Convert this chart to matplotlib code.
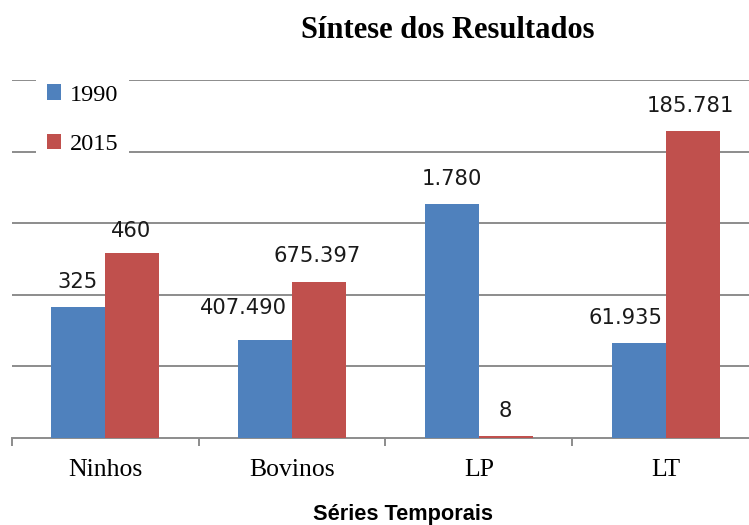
import matplotlib
matplotlib.use("Agg")
import matplotlib.pyplot as plt
from matplotlib.patches import Patch
import numpy as np

# ---- data ----
categories = ["Ninhos", "Bovinos", "LP", "LT"]
series_names = ["1990", "2015"]
# bar heights as drawn (relative chart units)
heights_1990 = [1.82, 1.36, 3.26, 1.33]
heights_2015 = [2.58, 2.18, 0.03, 4.29]
# data labels as printed on the chart
labels_1990 = ["325", "407.490", "1.780", "61.935"]
labels_2015 = ["460", "675.397", "8", "185.781"]

title = "Síntese dos Resultados"
xlabel = "Séries Temporais"

# ---- style ----
c1990 = "#4F81BD"
c2015 = "#C0504D"
grid_c = "#8C8C8C"
W, H = 749, 525
# label offsets in pixels (dx, dy) relative to bar top centre
off_1990 = [(-1, 25), (-22, 32), (0, 25), (-13, 25)]
off_2015 = [(-1, 22), (-2, 26), (-1, 25), (-2, 25)]

fig = plt.figure(figsize=(W / 100, H / 100), dpi=100)
left_px, right_px = 11.7, 759.3
top_px, bot_px = 80, 437.7
ax = fig.add_axes([left_px / W, 1 - bot_px / H,
                   (right_px - left_px) / W, (bot_px - top_px) / H])

x = np.arange(len(categories))
bw = 0.289
b1 = ax.bar(x - bw / 2, heights_1990, bw, color=c1990, zorder=3)
b2 = ax.bar(x + bw / 2, heights_2015, bw, color=c2015, zorder=3)

ax.set_xlim(-0.5, len(categories) - 0.5)
ax.set_ylim(0, 5)
ax.set_yticks([1, 2, 3, 4, 5])
ax.yaxis.grid(True, color=grid_c, linewidth=1.4, zorder=0)
ax.tick_params(axis="y", left=False, labelleft=False)
for s in ["left", "top", "right"]:
    ax.spines[s].set_visible(False)
ax.spines["bottom"].set_color(grid_c)
ax.spines["bottom"].set_linewidth(1.4)

ax.set_xticks(x)
ax.set_xticklabels(categories, fontfamily="Liberation Serif", fontsize=18.5)
ax.tick_params(axis="x", which="major", length=0, pad=15)
ax.set_xticks(np.arange(-0.5, len(categories)), minor=True)
ax.tick_params(axis="x", which="minor", length=6, width=1.4, color=grid_c)

for bars, labs, offs in [(b1, labels_1990, off_1990), (b2, labels_2015, off_2015)]:
    for r, lab, (dx, dy) in zip(bars, labs, offs):
        ax.annotate(lab, (r.get_x() + r.get_width() / 2, r.get_height()),
                    xytext=(dx, dy), textcoords="offset pixels",
                    ha="center", va="center", fontsize=15.2,
                    fontfamily="DejaVu Sans", color="#1a1a1a", zorder=5)

fig.text(447.5 / W, 1 - 30 / H, title, ha="center", va="center",
         fontfamily="Liberation Serif", fontweight="bold", fontsize=22)
fig.text(403 / W, 1 - 520 / H, xlabel, ha="center", va="baseline",
         fontfamily="Liberation Sans", fontweight="bold", fontsize=15.7)

handles = [Patch(facecolor=c1990, edgecolor="none"),
           Patch(facecolor=c2015, edgecolor="none")]
leg = fig.legend(handles, series_names, loc="upper left",
                 bbox_to_anchor=(35.7 / W, 1 - 73.5 / H),
                 prop={"family": "Liberation Serif", "size": 17.5},
                 handlelength=0.6, handleheight=0.6, handletextpad=0.35,
                 labelspacing=1.15, borderpad=0.45, borderaxespad=0,
                 frameon=True, fancybox=False)
leg.get_frame().set_facecolor("white")
leg.get_frame().set_edgecolor("none")
leg.get_frame().set_alpha(1)

fig.savefig("out.png", dpi=100)
